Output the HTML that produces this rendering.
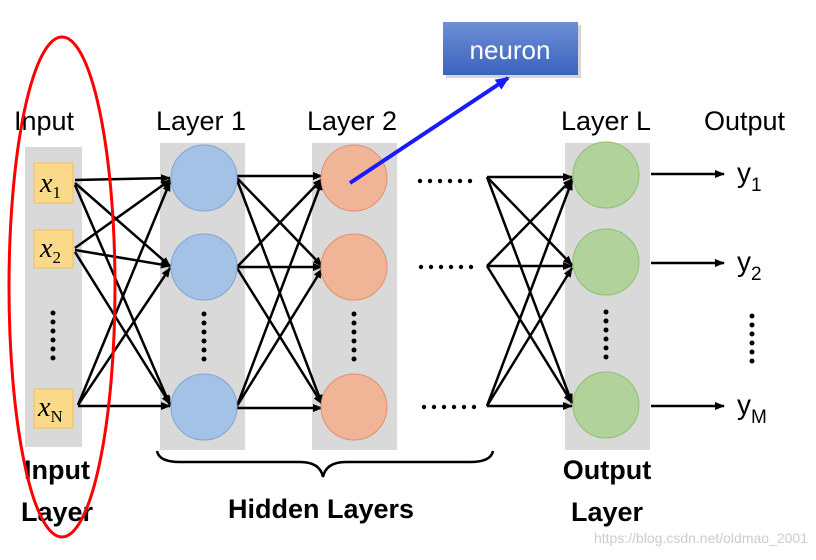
<!DOCTYPE html>
<html><head><meta charset="utf-8"><style>
body{margin:0;background:#fff;}
svg text{font-family:"Liberation Sans",sans-serif;}
</style></head><body>
<svg width="816" height="555" viewBox="0 0 816 555" xmlns="http://www.w3.org/2000/svg">
<defs>
<marker id="ah" markerWidth="10" markerHeight="8" refX="9" refY="4" orient="auto" markerUnits="userSpaceOnUse"><path d="M0,0 L10,4 L0,8 Z" fill="#000"/></marker>
<marker id="bh" markerWidth="14" markerHeight="12" refX="12" refY="6" orient="auto" markerUnits="userSpaceOnUse"><path d="M0,0 L14,6 L0,12 Z" fill="#1a1aff"/></marker>
<linearGradient id="nb" x1="0" y1="0" x2="0" y2="1"><stop offset="0" stop-color="#6f8fd6"/><stop offset="1" stop-color="#3a63bd"/></linearGradient>
<g id="vd"><circle cx="0" cy="0" r="2.5"/><circle cx="0" cy="9" r="2.5"/><circle cx="0" cy="18" r="2.5"/><circle cx="0" cy="27" r="2.5"/><circle cx="0" cy="36" r="2.5"/><circle cx="0" cy="45" r="2.5"/></g>
<g id="hd"><circle cx="0" cy="0" r="2.2"/><circle cx="10" cy="0" r="2.2"/><circle cx="20" cy="0" r="2.2"/><circle cx="30" cy="0" r="2.2"/><circle cx="40" cy="0" r="2.2"/><circle cx="50" cy="0" r="2.2"/></g>
</defs>
<rect x="25" y="147" width="57" height="300" fill="#d9d9d9"/>
<rect x="160" y="143" width="85" height="307" fill="#d9d9d9"/>
<rect x="312" y="143" width="85" height="307" fill="#d9d9d9"/>
<rect x="565" y="143" width="85" height="307" fill="#d9d9d9"/>
<g font-size="27" fill="#000">
<text x="14" y="130">Input</text>
<text x="156" y="130">Layer 1</text>
<text x="307" y="130">Layer 2</text>
<text x="561" y="130">Layer L</text>
<text x="704" y="130">Output</text>
</g>
<g fill="#fbd98a" stroke="#f0c060">
<rect x="34" y="163" width="39" height="40"/>
<rect x="34" y="230" width="39" height="38"/>
<rect x="34" y="389" width="39" height="39"/>
</g>
<g font-style="italic" font-size="28" fill="#000">
<text x="40" y="192" style="font-family:'Liberation Serif',serif">x<tspan font-size="17" font-style="normal" dy="6">1</tspan></text>
<text x="40" y="257" style="font-family:'Liberation Serif',serif">x<tspan font-size="17" font-style="normal" dy="6">2</tspan></text>
<text x="38" y="416" style="font-family:'Liberation Serif',serif">x<tspan font-size="17" font-style="normal" dy="6">N</tspan></text>
</g>
<g stroke="#000" stroke-width="2.5" marker-end="url(#ah)">
<line x1="75" y1="180" x2="170" y2="178"/><line x1="75" y1="183" x2="170" y2="266"/><line x1="75" y1="185" x2="170" y2="405"/>
<line x1="75" y1="248" x2="170" y2="180"/><line x1="75" y1="250" x2="170" y2="266"/><line x1="75" y1="252" x2="170" y2="404"/>
<line x1="78" y1="405" x2="170" y2="182"/><line x1="78" y1="405" x2="170" y2="268"/><line x1="78" y1="406" x2="170" y2="406"/>
<line x1="237" y1="176" x2="322" y2="176"/><line x1="237" y1="178" x2="322" y2="266"/><line x1="237" y1="180" x2="322" y2="404"/>
<line x1="237" y1="267" x2="322" y2="179"/><line x1="237" y1="267" x2="322" y2="267"/><line x1="237" y1="268" x2="322" y2="404"/>
<line x1="237" y1="406" x2="322" y2="181"/><line x1="237" y1="406" x2="322" y2="269"/><line x1="237" y1="408" x2="322" y2="408"/>
<line x1="487" y1="177" x2="572" y2="177"/><line x1="487" y1="177" x2="572" y2="265"/><line x1="487" y1="177" x2="572" y2="403"/>
<line x1="487" y1="266" x2="572" y2="179"/><line x1="487" y1="266" x2="572" y2="266"/><line x1="487" y1="266" x2="572" y2="403"/>
<line x1="487" y1="406" x2="572" y2="181"/><line x1="487" y1="406" x2="572" y2="268"/><line x1="487" y1="406" x2="572" y2="406"/>
<line x1="651" y1="174" x2="724" y2="174"/><line x1="651" y1="263" x2="724" y2="263"/><line x1="651" y1="406" x2="724" y2="406"/>
</g>
<g fill="#a4c2e6" stroke="#7fa6d6"><circle cx="204" cy="178" r="33"/><circle cx="204" cy="267" r="33"/><circle cx="204" cy="407" r="33"/></g>
<g fill="#f0b497" stroke="#e09070"><circle cx="354" cy="178" r="33"/><circle cx="354" cy="267" r="33"/><circle cx="354" cy="407" r="33"/></g>
<g fill="#b2d29c" stroke="#8fbf70"><circle cx="606" cy="175" r="33"/><circle cx="606" cy="262" r="33"/><circle cx="606" cy="405" r="33"/></g>
<g fill="#000">
<use href="#vd" x="53" y="313"/><use href="#vd" x="204" y="314"/><use href="#vd" x="354" y="314"/><use href="#vd" x="606" y="312"/><use href="#vd" x="752" y="316"/>
<use href="#hd" x="420" y="181"/><use href="#hd" x="421" y="267"/><use href="#hd" x="424" y="407"/>
</g>
<g font-size="28" fill="#000">
<text x="737" y="182">y<tspan font-size="19" dy="9">1</tspan></text>
<text x="737" y="271">y<tspan font-size="19" dy="9">2</tspan></text>
<text x="737" y="414">y<tspan font-size="19" dy="9">M</tspan></text>
</g>
<rect x="446" y="25" width="135" height="53" fill="#888" opacity="0.35"/>
<rect x="443" y="22" width="135" height="53" fill="url(#nb)"/>
<text x="510" y="59" font-size="26" fill="#fff" text-anchor="middle">neuron</text>
<line x1="350" y1="183" x2="508" y2="78" stroke="#1a1aff" stroke-width="4" marker-end="url(#bh)"/>
<path d="M157,451 Q159,462 180,462 L300,462 Q320,462 323,477 Q326,462 346,462 L470,462 Q491,462 493,451" fill="none" stroke="#000" stroke-width="2.5"/>
<g font-size="27" font-weight="bold" fill="#000" text-anchor="middle">
<text x="57" y="479">Input</text>
<text x="57" y="521">Layer</text>
<text x="321" y="518">Hidden Layers</text>
<text x="607" y="479">Output</text>
<text x="607" y="521">Layer</text>
</g>
<ellipse cx="62" cy="287" rx="53" ry="250" fill="none" stroke="#f00" stroke-width="3"/>
<text x="808" y="543" font-size="14" fill="#ccc" text-anchor="end">https://blog.csdn.net/oldmao_2001</text>
</svg>
</body></html>
